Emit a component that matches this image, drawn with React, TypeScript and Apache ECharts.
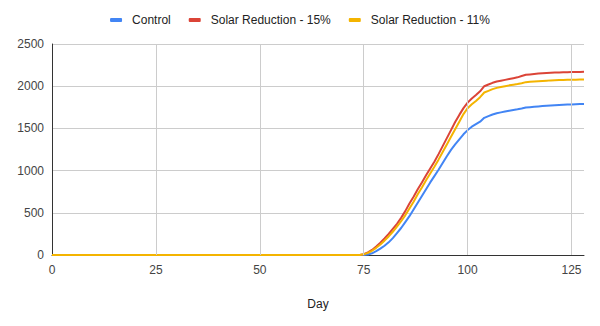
import React, { useEffect, useRef } from "react";
import * as echarts from "echarts";

const seriesNames = ["Control", "Solar Reduction - 15%", "Solar Reduction - 11%"];
const colors = ["#4285F4", "#DB4437", "#F4B400"];
const xTicks = [25, 50, 75, 100, 125];

// day index = position in array (days 0..128)
const control = [
  0, 0, 0, 0, 0, 0, 0, 0, 0, 0, 0, 0, 0, 0, 0, 0, 0, 0, 0, 0, 0, 0, 0, 0, 0,
  0, 0, 0, 0, 0, 0, 0, 0, 0, 0, 0, 0, 0, 0, 0, 0, 0, 0, 0, 0, 0, 0, 0, 0, 0,
  0, 0, 0, 0, 0, 0, 0, 0, 0, 0, 0, 0, 0, 0, 0, 0, 0, 0, 0, 0, 0, 0, 0, 0, 0,
  0, 5, 20, 45, 75, 110, 150, 200, 260, 320, 390, 460, 540, 620, 700, 780, 860, 935, 1010, 1090,
  1170, 1245, 1310, 1370, 1430, 1480, 1520, 1550, 1580, 1625, 1645, 1665, 1680, 1690, 1700, 1710,
  1718, 1726, 1735, 1748, 1752, 1756, 1760, 1764, 1768, 1772, 1775, 1778, 1780, 1782, 1784, 1786,
  1788, 1789,
];
const solar15 = [
  0, 0, 0, 0, 0, 0, 0, 0, 0, 0, 0, 0, 0, 0, 0, 0, 0, 0, 0, 0, 0, 0, 0, 0, 0,
  0, 0, 0, 0, 0, 0, 0, 0, 0, 0, 0, 0, 0, 0, 0, 0, 0, 0, 0, 0, 0, 0, 0, 0, 0,
  0, 0, 0, 0, 0, 0, 0, 0, 0, 0, 0, 0, 0, 0, 0, 0, 0, 0, 0, 0, 0, 0, 0, 0, 0,
  10, 30, 60, 100, 145, 195, 250, 310, 370, 440, 520, 610, 690, 780, 860, 945, 1025, 1105, 1195, 1290,
  1385, 1480, 1575, 1660, 1740, 1805, 1855, 1895, 1940, 2000, 2020, 2040, 2055, 2065, 2075, 2085,
  2095, 2105, 2120, 2135, 2140, 2145, 2150, 2153, 2156, 2159, 2161, 2163, 2165, 2166, 2167, 2168,
  2169, 2170,
];
const solar11 = [
  0, 0, 0, 0, 0, 0, 0, 0, 0, 0, 0, 0, 0, 0, 0, 0, 0, 0, 0, 0, 0, 0, 0, 0, 0,
  0, 0, 0, 0, 0, 0, 0, 0, 0, 0, 0, 0, 0, 0, 0, 0, 0, 0, 0, 0, 0, 0, 0, 0, 0,
  0, 0, 0, 0, 0, 0, 0, 0, 0, 0, 0, 0, 0, 0, 0, 0, 0, 0, 0, 0, 0, 0, 0, 0, 0,
  8, 25, 50, 85, 125, 170, 220, 275, 335, 400, 470, 550, 630, 720, 800, 885, 965, 1045, 1130, 1220,
  1310, 1400, 1490, 1580, 1670, 1740, 1785, 1825, 1870, 1925, 1945, 1965, 1980, 1990, 2000, 2010,
  2018, 2026, 2035, 2048, 2052, 2056, 2060, 2063, 2066, 2069, 2071, 2073, 2074, 2075, 2076, 2077,
  2078, 2079,
];

const FONT = "Arial, 'Liberation Sans', sans-serif";

export default function App() {
  const ref = useRef<HTMLDivElement>(null);
  useEffect(() => {
    if (!ref.current) return;
    const chart = echarts.init(ref.current, null, { renderer: "svg" });
    const values = [control, solar15, solar11];
    chart.setOption({
      animation: false,
      backgroundColor: "#ffffff",
      textStyle: { fontFamily: FONT },
      legend: {
        top: 9,
        left: "center",
        icon: "roundRect",
        itemWidth: 12,
        itemHeight: 4,
        itemGap: 18,
        data: seriesNames,
        textStyle: { fontSize: 12, color: "#222", fontFamily: FONT, padding: [0, 0, 0, 5] },
      },
      grid: { left: 52, right: 16, top: 44, bottom: 71, containLabel: false },
      xAxis: {
        type: "value",
        min: 0,
        max: 128,
        interval: 25,
        name: "Day",
        nameLocation: "middle",
        nameGap: 43,
        nameTextStyle: { fontSize: 12, color: "#222", fontFamily: FONT },
        axisLine: { show: true, lineStyle: { color: "#333", width: 1 } },
        axisTick: { show: false },
        splitLine: { show: false },
        axisLabel: { color: "#444", fontSize: 12, margin: 9, showMaxLabel: false, fontFamily: FONT },
      },
      yAxis: {
        type: "value",
        min: 0,
        max: 2500,
        interval: 500,
        axisLine: { show: true, lineStyle: { color: "#333", width: 1 } },
        axisTick: { show: false },
        splitLine: { show: true, lineStyle: { color: "#cccccc", width: 1 } },
        axisLabel: {
          color: "#444",
          fontSize: 12,
          margin: 8,
          fontFamily: FONT,
          formatter: (v: number) => String(v),
        },
      },
      series: [
        {
          type: "line",
          name: "grid",
          data: [],
          silent: true,
          z: 1,
          markLine: {
            silent: true,
            symbol: ["none", "none"],
            label: { show: false },
            lineStyle: { color: "#cccccc", width: 1, type: "solid" },
            emphasis: { disabled: true },
            data: xTicks.map((t) => ({ xAxis: t })),
          },
        },
        ...seriesNames.map((name, i) => ({
          type: "line",
          name,
          data: values[i].map((v, d) => [d, v]),
          showSymbol: false,
          symbol: "none",
          smooth: false,
          z: 2 + i,
          lineStyle: { color: colors[i], width: 2 },
          itemStyle: { color: colors[i] },
        })),
      ],
    });
    return () => chart.dispose();
  }, []);
  return (
    <div
      ref={ref}
      style={{ position: "fixed", left: 0, top: 0, width: 600, height: 326, background: "#fff" }}
    />
  );
}
